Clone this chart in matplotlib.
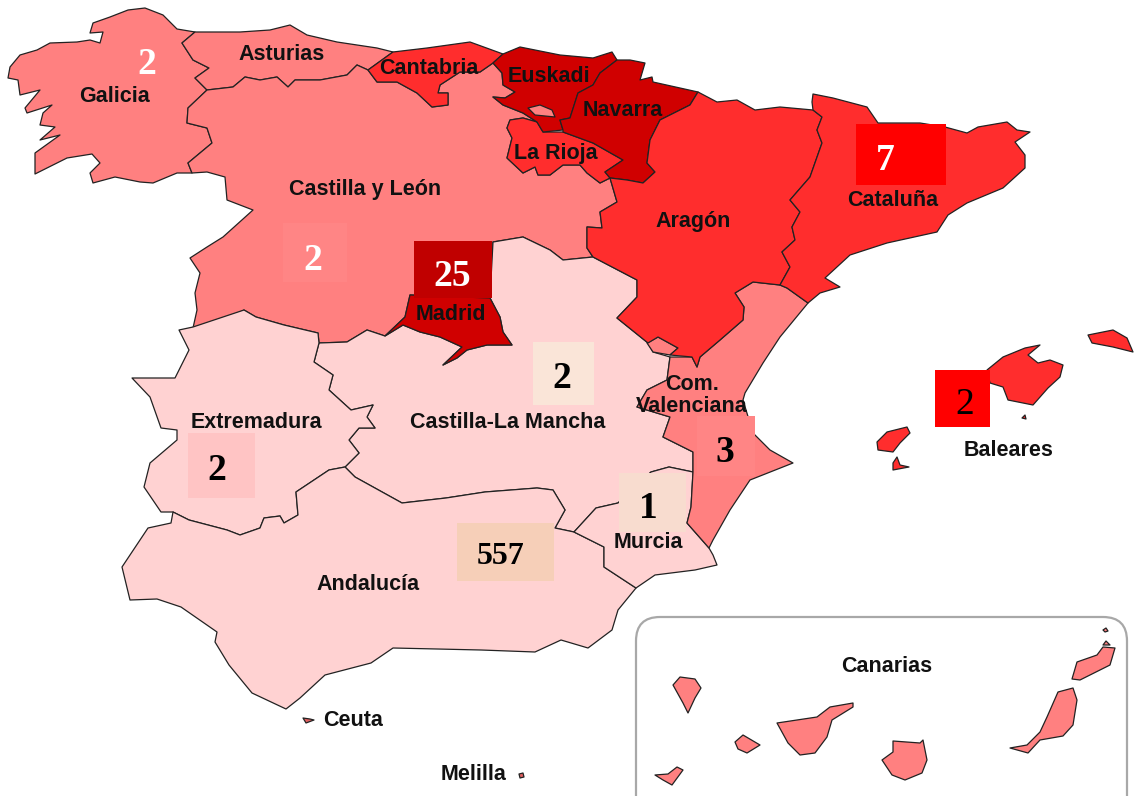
import matplotlib
matplotlib.use("Agg")
import matplotlib.pyplot as plt
from matplotlib.patches import Polygon, Rectangle, FancyBboxPatch

LIGHT, MID, RED, DARK = "#FFD2D2", "#FF8080", "#FF2D2D", "#D00000"

galicia = [(10,67),(20,55),(37,50),(50,43),(77,42),(90,40),(100,43),(103,32),(90,33),(93,23),(110,17),(128,10),(145,8),(163,15),(177,29),(195,32),(182,43),(193,60),(209,68),(195,78),(207,90),(188,108),(187,123),(207,128),(212,143),(188,163),(192,173),(177,173),(153,183),(140,182),(115,177),(93,183),(90,173),(100,163),(92,154),(67,158),(35,174),(35,153),(60,135),(40,140),(55,127),(40,125),(43,113),(52,105),(27,113),(25,108),(40,90),(20,95),(18,80),(8,78)]
asturias = [(195,32),(240,32),(270,30),(290,25),(307,35),(337,42),(377,48),(393,52),(368,70),(357,65),(347,75),(320,80),(295,80),(288,87),(277,77),(260,80),(245,77),(233,87),(207,90),(195,78),(209,68),(193,60),(182,43)]
cantabria = [(393,52),(427,48),(470,42),(503,54),(493,63),(480,72),(460,72),(440,85),(438,93),(448,93),(448,105),(432,107),(417,93),(397,82),(377,82),(368,70)]
euskadi = [(503,54),(520,47),(560,55),(593,58),(612,52),(617,60),(600,73),(593,85),(578,93),(570,118),(560,120),(563,130),(543,132),(537,122),(523,113),(503,105),(493,97),(505,98),(515,92),(503,85),(502,73),(493,63)]
trevino = [(528,108),(540,105),(552,110),(555,117),(535,115)]
navarra = [(617,60),(630,60),(645,63),(640,80),(652,77),(653,82),(698,92),(690,105),(660,120),(650,140),(647,163),(655,172),(643,183),(627,180),(610,178),(605,172),(623,160),(593,143),(563,132),(563,130),(560,120),(570,118),(578,93),(593,85),(600,73)]
navarra_enclave = [(663,138),(672,132),(675,136),(668,138)]
la_rioja = [(510,120),(523,118),(537,122),(543,132),(563,132),(593,143),(623,160),(605,172),(610,178),(600,183),(587,173),(580,165),(563,165),(550,175),(538,175),(535,167),(523,173),(507,158),(512,138),(507,128)]
castilla_leon = [(207,90),(233,87),(245,77),(260,80),(277,77),(288,87),(295,80),(320,80),(347,75),(357,65),(368,70),(377,82),(397,82),(417,93),(432,107),(448,105),(448,93),(438,93),(440,85),(460,72),(480,72),(493,63),(502,73),(503,85),(515,92),(505,98),(493,97),(503,105),(523,113),(537,122),(523,118),(510,120),(507,128),(512,138),(507,158),(523,173),(535,167),(538,175),(550,175),(563,165),(580,165),(587,173),(600,183),(610,178),(617,202),(600,212),(602,228),(587,227),(587,248),(593,257),(563,260),(550,250),(523,237),(493,242),(490,298),(410,295),(405,317),(385,336),(367,330),(347,342),(319,343),(318,333),(284,325),(256,317),(244,310),(217,323),(193,328),(197,310),(195,293),(200,273),(190,258),(207,247),(223,237),(253,210),(227,200),(225,177),(207,172),(192,173),(188,163),(212,143),(207,128),(187,123),(188,108)]
madrid = [(410,295),(490,298),(500,317),(503,332),(512,345),(487,345),(467,350),(457,358),(443,365),(462,347),(440,337),(420,332),(403,325),(385,336),(405,317)]
castilla_mancha = [(319,343),(347,342),(367,330),(385,336),(403,325),(420,332),(440,337),(462,347),(443,365),(457,358),(467,350),(487,345),(512,345),(503,332),(500,317),(490,298),(493,242),(523,237),(550,250),(563,260),(593,257),(637,280),(637,297),(617,318),(648,343),(653,352),(670,357),(667,380),(647,390),(637,407),(670,417),(663,437),(693,452),(693,472),(669,467),(651,472),(618,503),(596,508),(574,532),(555,528),(565,510),(553,490),(537,488),(485,492),(446,498),(402,503),(355,477),(345,467),(359,453),(349,440),(359,428),(375,428),(367,417),(373,405),(351,410),(329,390),(333,375),(314,362)]
extremadura = [(193,327),(244,310),(256,317),(284,325),(318,333),(319,343),(314,362),(333,375),(329,390),(351,410),(373,405),(367,417),(375,428),(359,428),(349,440),(359,453),(345,467),(329,470),(296,492),(298,515),(284,523),(280,516),(264,518),(260,528),(240,535),(227,530),(189,520),(173,512),(161,512),(144,487),(150,463),(177,440),(177,430),(161,428),(150,397),(132,378),(175,378),(189,350),(179,330)]
andalucia = [(173,512),(189,520),(227,530),(240,535),(260,528),(264,518),(280,516),(284,523),(298,515),(296,492),(329,470),(345,467),(355,477),(402,503),(446,498),(485,492),(537,488),(553,490),(565,510),(555,528),(574,532),(604,547),(604,567),(636,588),(618,610),(612,630),(588,648),(561,640),(535,652),(481,650),(393,648),(371,663),(325,675),(300,698),(286,709),(252,693),(229,665),(215,642),(217,632),(181,607),(157,599),(130,600),(122,567),(148,528),(171,523)]
murcia = [(651,472),(669,467),(693,472),(691,507),(687,523),(709,548),(713,555),(717,565),(695,570),(655,575),(636,588),(604,567),(604,547),(574,532),(596,508),(618,503)]
valencia = [(808,303),(780,337),(763,363),(745,393),(743,400),(753,433),(770,450),(793,463),(750,480),(730,510),(713,540),(709,548),(687,523),(691,507),(693,472),(693,452),(663,437),(670,417),(637,407),(647,390),(667,380),(670,357),(692,357),(697,367),(700,357),(720,340),(743,320),(744,307),(735,293),(753,282),(780,285),(787,288)]
ademuz = [(647,343),(658,337),(678,348),(670,355),(653,352)]
aragon = [(698,92),(717,102),(737,100),(755,110),(780,107),(813,110),(822,117),(817,130),(822,143),(810,177),(790,200),(800,212),(792,227),(795,240),(782,252),(790,267),(780,285),(753,282),(735,293),(744,307),(743,320),(720,340),(700,357),(697,367),(692,357),(670,355),(678,348),(658,337),(648,343),(617,318),(637,297),(637,280),(593,257),(587,248),(587,227),(602,228),(600,212),(617,202),(610,178),(627,180),(643,183),(655,172),(647,163),(650,140),(660,120),(690,105)]
cataluna = [(813,110),(812,102),(813,94),(833,98),(867,107),(878,123),(920,123),(945,127),(967,133),(978,127),(1007,122),(1017,130),(1030,132),(1015,142),(1025,155),(1025,168),(1003,188),(967,203),(948,215),(937,232),(887,243),(850,255),(825,278),(840,287),(820,293),(808,303),(787,288),(780,285),(790,267),(782,252),(795,240),(792,227),(800,212),(790,200),(810,177),(822,143),(817,130),(822,117)]
mallorca = [(987,370),(1003,357),(1025,348),(1040,345),(1028,355),(1038,363),(1050,360),(1063,365),(1060,377),(1048,388),(1033,405),(1008,400),(1003,387),(990,383)]
menorca = [(1088,335),(1113,330),(1127,338),(1133,352),(1113,347),(1092,343)]
ibiza = [(877,442),(887,432),(907,427),(910,433),(900,443),(893,452),(878,450)]
formentera = [(893,463),(897,457),(900,465),(909,467),(893,470)]
cabrera = [(1022,418),(1025,415),(1026,419)]
la_palma = [(673,685),(680,677),(695,679),(701,688),(695,698),(688,713),(683,703)]
el_hierro = [(655,775),(668,774),(677,767),(683,770),(672,785),(663,780)]
la_gomera = [(735,742),(743,735),(760,745),(747,753),(738,749)]
tenerife = [(777,723),(817,717),(830,707),(853,703),(853,707),(832,720),(827,737),(815,753),(800,755),(788,743)]
gran_canaria = [(882,760),(893,752),(893,741),(920,743),(923,740),(927,760),(922,773),(905,780),(892,775)]
fuerteventura = [(1010,748),(1027,745),(1040,732),(1047,717),(1058,692),(1073,688),(1077,700),(1073,725),(1063,736),(1040,740),(1028,753)]
lanzarote = [(1072,679),(1077,662),(1097,655),(1103,647),(1115,648),(1110,665),(1080,680)]
la_graciosa = [(1103,645),(1106,641),(1110,645)]
alegranza = [(1103,630),(1106,628),(1108,631),(1105,632)]
ceuta = [(303,718),(310,719),(314,720),(306,723)]
melilla = [(519,774),(523,773),(524,777),(520,778)]

regions = [
    (galicia, MID), (asturias, MID), (castilla_leon, MID), (cantabria, RED), (la_rioja, RED),
    (euskadi, DARK), (trevino, MID), (navarra, DARK), (navarra_enclave, DARK), (castilla_mancha, LIGHT),
    (madrid, DARK), (extremadura, LIGHT), (andalucia, LIGHT), (murcia, LIGHT), (valencia, MID),
    (ademuz, MID), (aragon, RED), (cataluna, RED), (mallorca, RED), (menorca, RED), (ibiza, RED),
    (formentera, RED), (cabrera, RED), (la_palma, MID), (el_hierro, MID), (la_gomera, MID),
    (tenerife, MID), (gran_canaria, MID), (fuerteventura, MID), (lanzarote, MID), (la_graciosa, MID),
    (alegranza, MID), (ceuta, "#E06060"), (melilla, "#E06060"),
]

region_names = ["Galicia", "Asturias", "Cantabria", "Euskadi", "Navarra", "La Rioja", "Castilla y León",
                "Aragón", "Cataluña", "Madrid", "Com.", "Valenciana", "Extremadura", "Castilla-La Mancha",
                "Murcia", "Andalucía", "Baleares", "Ceuta", "Melilla", "Canarias"]
name_x = [114, 282, 429, 549, 623, 556, 365, 693, 893, 451, 692, 692, 256, 508, 648, 368, 1009, 353, 474, 887]
name_y = [96, 55, 68, 76, 110, 154, 190, 221, 200, 315, 384, 407, 423, 423, 542, 584, 450, 720, 775, 667]

counts = ["2", "2", "25", "2", "7", "2", "3", "1", "557", "2"]
count_x = [147, 313, 452, 562, 885, 965, 725, 648, 501, 217]
count_y = [64, 260, 276, 378, 160, 405, 453, 509, 556, 470]
count_colors = ["white", "white", "white", "black", "white", "black", "black", "black", "black", "black"]
count_weights = ["bold", "bold", "bold", "bold", "bold", "normal", "bold", "bold", "bold", "bold"]
count_sizes = [27, 27, 27, 27, 27, 27, 27, 27, 23, 27]

# box: (left, top, right, bottom, colour); None for labels without a box
count_boxes = [None, (283,223,347,282,"#FF8585"), (414,241,492,298,"#C00000"), (533,342,594,405,"#FAE5D8"),
               (856,124,946,185,"#FF0000"), (935,370,990,427,"#FF0000"), (697,416,755,476,"#FF8585"),
               (619,473,686,532,"#F8DCCF"), (457,523,554,581,"#F6CFB8"), (188,433,255,498,"#FFC4C4")]

fig = plt.figure(figsize=(11.34, 7.96), dpi=100)
ax = fig.add_axes([0, 0, 1, 1])
ax.set_xlim(0, 1134)
ax.set_ylim(796, 0)
ax.axis("off")

ax.add_patch(FancyBboxPatch((636, 617), 491, 220, boxstyle="round,pad=0,rounding_size=24",
                            fc="white", ec="#A8A8A8", lw=1.6, zorder=1))

for outline, colour in regions:
    ax.add_patch(Polygon(outline, closed=True, fc=colour, ec="#222222", lw=0.9, joinstyle="round", zorder=2))

for box in count_boxes:
    if box is not None:
        l, t, r, b, c = box
        ax.add_patch(Rectangle((l, t), r - l, b - t, fc=c, ec="none", zorder=3))

for name, x, y in zip(region_names, name_x, name_y):
    ax.text(x, y, name, ha="center", va="center", family="Liberation Sans", weight="bold",
            fontsize=15.5, color="#111111", zorder=4)

for s, x, y, c, w, fs in zip(counts, count_x, count_y, count_colors, count_weights, count_sizes):
    ax.text(x, y, s, ha="center", va="center", family="Liberation Serif", weight=w,
            fontsize=fs, color=c, zorder=5)

fig.savefig("out.png", dpi=100, facecolor="white")
